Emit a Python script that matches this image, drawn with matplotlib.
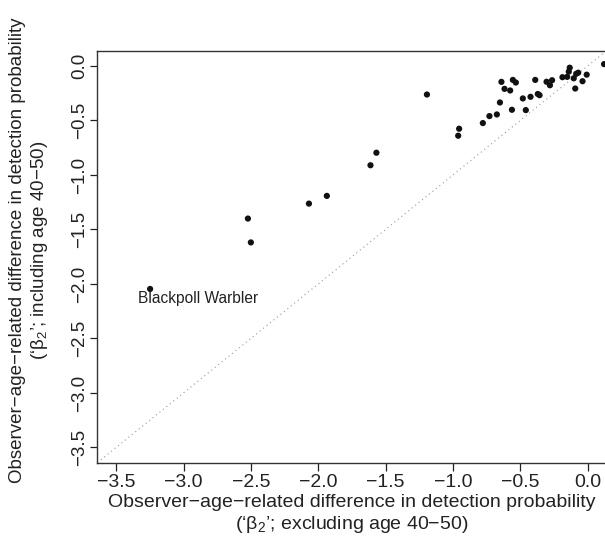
import matplotlib
matplotlib.use("Agg")
import matplotlib.pyplot as plt

plt.rcParams['font.family'] = ['Liberation Sans', 'DejaVu Sans']
plt.rcParams['mathtext.fontset'] = 'custom'
plt.rcParams['mathtext.rm'] = 'Liberation Sans'
plt.rcParams['mathtext.it'] = 'Liberation Sans:italic'

# beta2 excluding age 40-50 (x) vs including age 40-50 (y)
beta_excl = [-3.248, -2.522, -2.500, -2.069, -1.936, -1.612, -1.568, -1.193,
             -0.961, -0.954, -0.778, -0.729, -0.674, -0.651, -0.640, -0.617,
             -0.575, -0.562, -0.555, -0.533, -0.481, -0.459, -0.424, -0.389,
             -0.370, -0.357, -0.305, -0.280, -0.264, -0.187, -0.152, -0.140,
             -0.133, -0.103, -0.085, -0.070, -0.092, -0.038, -0.007, 0.122]
beta_incl = [-2.046, -1.400, -1.619, -1.263, -1.192, -0.911, -0.796, -0.262,
             -0.640, -0.576, -0.524, -0.460, -0.445, -0.335, -0.146, -0.210,
             -0.225, -0.402, -0.128, -0.152, -0.298, -0.405, -0.283, -0.128,
             -0.257, -0.268, -0.145, -0.177, -0.131, -0.103, -0.100, -0.052,
             -0.016, -0.113, -0.072, -0.062, -0.207, -0.140, -0.080, 0.017]
label_species = "Blackpoll Warbler"
ticks = [-3.5, -3.0, -2.5, -2.0, -1.5, -1.0, -0.5, 0.0]
tick_labels = ["\u22123.5", "\u22123.0", "\u22122.5", "\u22122.0",
               "\u22121.5", "\u22121.0", "\u22120.5", "0.0"]

W, H = 605, 544
fig = plt.figure(figsize=(W / 100, H / 100), dpi=100)
ax_l, ax_r, ax_t, ax_b = 97.3, 606.5, 50.7, 462.7
ax = fig.add_axes([ax_l / W, 1 - ax_b / H, (ax_r - ax_l) / W, (ax_b - ax_t) / H])

lim = (-3.64, 0.14)
ax.set_xlim(lim)
ax.set_ylim(lim)

ax.axline((0, 0), slope=1, color='#999999', linestyle=(0, (1, 3)), linewidth=0.8, zorder=1)
ax.scatter(beta_excl, beta_incl, s=20, color='#111111', edgecolors='none', zorder=3)
ax.text(beta_excl[0] - 0.09, beta_incl[0] - 0.09, label_species, fontsize=11.2,
        ha='left', va='center', color='#222222')

ax.set_xticks(ticks)
ax.set_xticklabels(tick_labels)
ax.set_yticks(ticks)
ax.set_yticklabels(tick_labels, rotation=90, va='center')
ax.tick_params(axis='x', direction='out', length=6, width=0.9, labelsize=14,
               colors='#222222', pad=2)
ax.tick_params(axis='y', direction='out', length=5, width=0.9, labelsize=13.5,
               colors='#222222', pad=1.5)

for sp in ax.spines.values():
    sp.set_linewidth(1.0)
    sp.set_color('#333333')

xc = (ax_l + ax_r) / 2
fig.text(xc / W, 1 - 514.5 / H,
         "Observer\u2212age\u2212related difference in detection probability\n"
         "(\u2018\u03b2$_2$\u2019; excluding age 40\u221250)",
         fontsize=14, color='#222222', linespacing=1.2, ha='center', va='center')
fig.text(29.5 / W, 1 - 250 / H,
         "Observer\u2212age\u2212related difference in detection probability\n"
         "(\u2018\u03b2$_2$\u2019; including age 40\u221250)",
         fontsize=13.5, color='#222222', linespacing=1.2, ha='center', va='center',
         rotation=90)

fig.savefig("out.png", dpi=100)
